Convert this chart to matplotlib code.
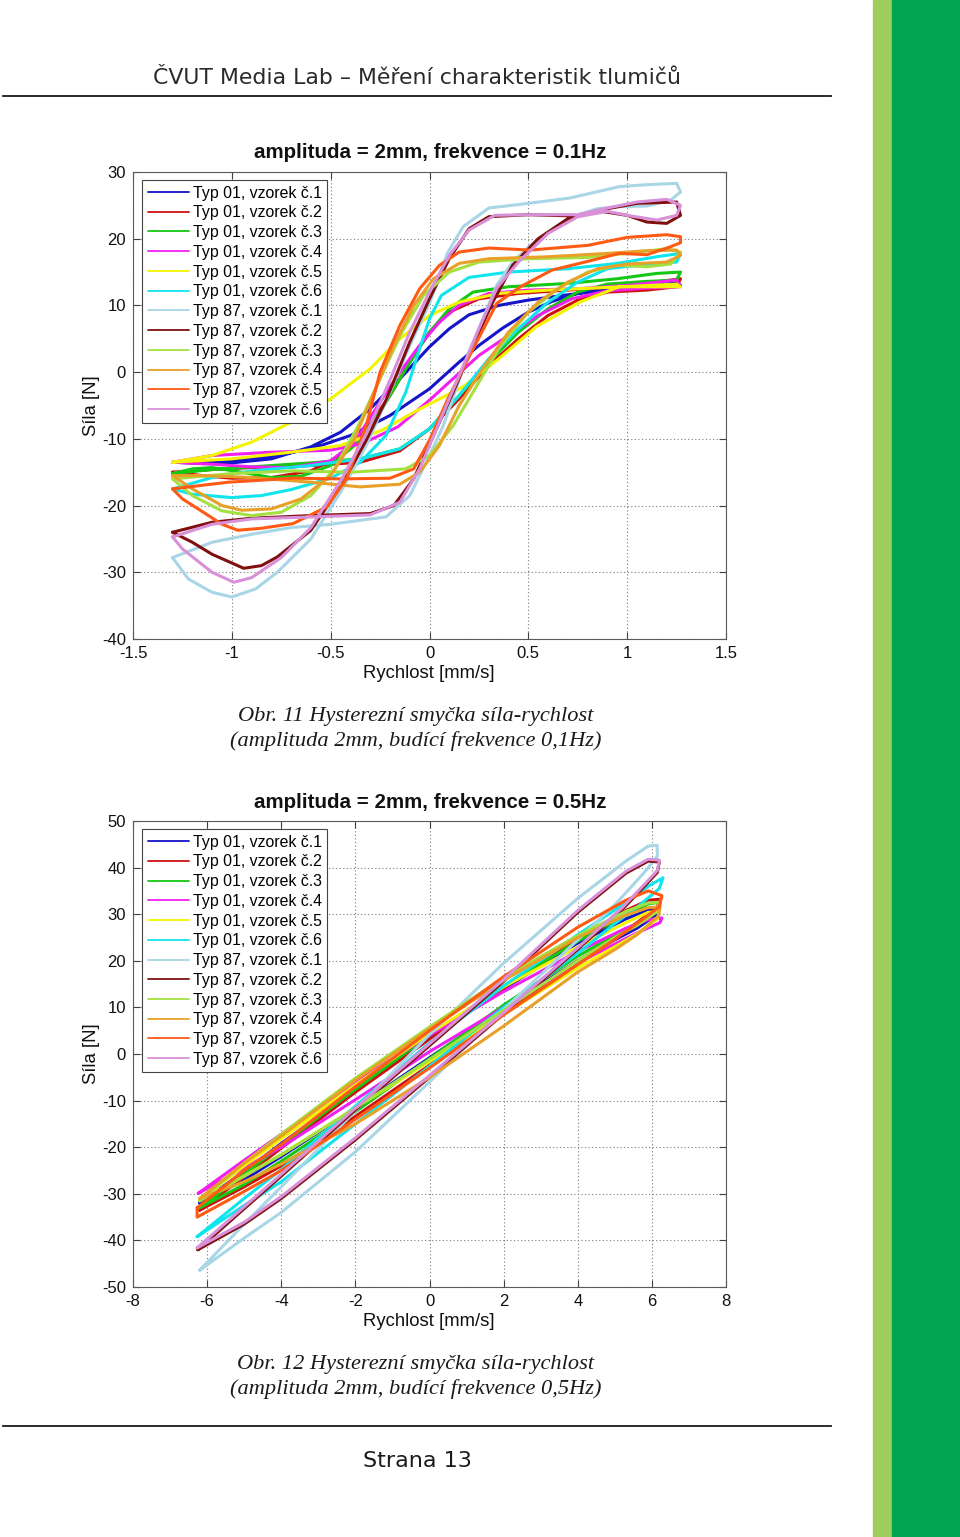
import matplotlib
matplotlib.use("Agg")
import matplotlib.pyplot as plt
from matplotlib.lines import Line2D
from matplotlib.patches import Rectangle
import numpy as np

plt.rcParams["axes.unicode_minus"] = False

# ---------------- data ----------------
labels = ["Typ 01, vzorek č.1", "Typ 01, vzorek č.2", "Typ 01, vzorek č.3",
          "Typ 01, vzorek č.4", "Typ 01, vzorek č.5", "Typ 01, vzorek č.6",
          "Typ 87, vzorek č.1", "Typ 87, vzorek č.2", "Typ 87, vzorek č.3",
          "Typ 87, vzorek č.4", "Typ 87, vzorek č.5", "Typ 87, vzorek č.6"]
colors = ["#1414c8", "#d01010", "#14c814", "#f020f0", "#f4f400", "#10e4ec",
          "#a8d6e6", "#801010", "#a4e040", "#e8a028", "#ff5a14", "#d890d8"]

slow_xticks = [-1.5, -1, -0.5, 0, 0.5, 1, 1.5]
slow_xticklabels = ["-1.5", "-1", "-0.5", "0", "0.5", "1", "1.5"]
slow_yticks = [-40, -30, -20, -10, 0, 10, 20, 30]
fast_xticks = [-8, -6, -4, -2, 0, 2, 4, 6, 8]
fast_yticks = [-50, -40, -30, -20, -10, 0, 10, 20, 30, 40, 50]

# ---- 0.1 Hz loops: (velocity mm/s, force N) ----
slow_01_1 = [(-1.30,-13.5),(-1.15,-13.7),(-1.0,-13.6),(-0.8,-13.0),(-0.6,-11.2),(-0.45,-9.0),(-0.3,-5.5),(-0.15,-1.0),(0.0,3.8),(0.1,6.5),(0.2,8.6),(0.35,10.0),(0.5,10.8),(0.7,11.6),(0.9,12.3),(1.1,12.9),(1.25,13.4),
             (1.27,13.0),(1.1,12.9),(0.88,12.5),(0.75,11.8),(0.62,10.6),(0.5,9.0),(0.37,6.6),(0.25,4.0),(0.15,1.5),(0.0,-2.5),(-0.2,-6.5),(-0.4,-9.5),(-0.6,-11.5),(-0.8,-12.6),(-1.0,-13.2),(-1.30,-13.5)]
slow_01_2 = [(-1.30,-15.0),(-1.15,-15.5),(-1.0,-15.9),(-0.8,-15.8),(-0.6,-14.8),(-0.45,-12.5),(-0.32,-8.5),(-0.2,-3.5),(-0.1,1.5),(0.0,6.0),(0.1,9.0),(0.25,11.0),(0.45,11.8),(0.7,12.3),(0.95,12.8),(1.15,13.5),(1.27,14.0),
             (1.25,12.8),(1.1,12.3),(0.9,12.0),(0.75,10.8),(0.6,8.5),(0.45,5.0),(0.3,1.0),(0.15,-4.0),(0.0,-8.5),(-0.15,-11.8),(-0.35,-13.5),(-0.6,-14.0),(-0.9,-14.3),(-1.1,-14.6),(-1.30,-15.0)]
slow_01_3 = [(-1.30,-15.2),(-1.2,-14.5),(-1.1,-14.3),(-0.95,-15.0),(-0.8,-15.8),(-0.65,-15.6),(-0.5,-14.0),(-0.36,-10.5),(-0.24,-5.5),(-0.12,0.5),(0.0,6.0),(0.1,9.5),(0.22,12.0),(0.4,12.8),(0.7,13.3),(0.95,14.0),(1.15,14.8),(1.27,15.0),
             (1.25,13.8),(1.1,13.6),(0.9,13.2),(0.75,12.0),(0.6,9.5),(0.45,6.0),(0.3,1.5),(0.15,-3.5),(0.0,-8.5),(-0.15,-11.5),(-0.35,-13.0),(-0.6,-13.6),(-0.9,-14.2),(-1.1,-14.6),(-1.30,-15.2)]
slow_01_4 = [(-1.30,-13.5),(-1.1,-13.8),(-0.9,-14.2),(-0.7,-14.3),(-0.5,-13.3),(-0.38,-10.5),(-0.25,-4.5),(-0.15,0.0),(-0.05,4.0),(0.05,7.5),(0.15,10.0),(0.3,11.8),(0.5,12.3),(0.75,12.5),(1.0,13.0),(1.25,13.8),
             (1.27,12.8),(1.1,12.6),(0.9,12.2),(0.72,11.0),(0.55,8.5),(0.4,5.5),(0.25,2.5),(0.1,-1.5),(0.0,-4.2),(-0.16,-8.2),(-0.34,-10.7),(-0.5,-11.7),(-0.8,-12.0),(-1.1,-12.5),(-1.30,-13.5)]
slow_01_5 = [(-1.30,-13.5),(-1.1,-12.5),(-0.9,-10.5),(-0.7,-7.5),(-0.5,-4.0),(-0.3,0.5),(-0.15,5.0),(0.0,8.5),(0.15,10.5),(0.35,11.8),(0.6,12.3),(0.9,12.7),(1.25,13.2),
             (1.27,12.8),(0.96,12.8),(0.76,10.5),(0.54,6.8),(0.35,2.0),(0.17,-2.2),(-0.06,-5.7),(-0.24,-8.7),(-0.45,-11.0),(-0.7,-12.0),(-1.0,-13.0),(-1.30,-13.5)]
slow_01_6 = [(-1.30,-17.5),(-1.2,-18.3),(-1.0,-18.8),(-0.85,-18.5),(-0.7,-17.6),(-0.5,-15.9),(-0.35,-13.5),(-0.22,-9.5),(-0.12,-3.0),(-0.05,3.5),(0.0,8.0),(0.06,11.5),(0.2,14.2),(0.4,15.0),(0.7,15.5),(0.95,16.3),(1.15,17.3),(1.27,17.8),
             (1.25,16.5),(1.1,16.2),(0.9,15.5),(0.75,13.5),(0.6,10.5),(0.45,6.5),(0.3,2.0),(0.15,-3.5),(0.0,-8.5),(-0.15,-11.5),(-0.35,-13.0),(-0.6,-14.0),(-0.9,-14.8),(-1.1,-15.8),(-1.30,-17.5)]
slow_87_1 = [(-1.30,-27.8),(-1.22,-31.0),(-1.1,-33.0),(-1.0,-33.7),(-0.88,-32.5),(-0.77,-30.0),(-0.6,-25.0),(-0.44,-17.5),(-0.32,-11.0),(-0.2,-3.0),(-0.1,4.0),(0.0,10.3),(0.09,17.8),(0.17,21.8),(0.3,24.6),(0.5,25.3),(0.71,26.1),(0.96,27.8),(1.1,28.1),(1.25,28.3),(1.27,27.0),
             (1.22,25.8),(1.1,24.9),(0.95,24.8),(0.85,24.5),(0.71,23.2),(0.6,21.0),(0.51,19.0),(0.42,16.5),(0.34,13.0),(0.27,8.0),(0.2,3.0),(0.14,-2.0),(0.07,-8.0),(0.0,-12.5),(-0.1,-18.5),(-0.22,-21.7),(-0.5,-22.8),(-0.7,-23.3),(-0.9,-24.3),(-1.1,-25.5),(-1.30,-27.8)]
slow_87_2 = [(-1.30,-24.0),(-1.2,-25.5),(-1.1,-27.3),(-0.94,-29.4),(-0.85,-29.0),(-0.77,-27.7),(-0.6,-23.7),(-0.44,-16.7),(-0.32,-10.2),(-0.22,-4.2),(-0.1,4.5),(0.0,11.0),(0.1,17.0),(0.2,21.5),(0.3,23.3),(0.5,23.6),(0.75,23.4),(0.9,24.5),(1.05,25.3),(1.25,25.5),(1.27,23.5),
             (1.2,22.3),(1.1,22.5),(1.0,23.5),(0.85,24.2),(0.7,23.0),(0.55,20.0),(0.42,16.0),(0.32,10.5),(0.22,4.0),(0.12,-3.0),(0.02,-9.5),(-0.08,-16.0),(-0.18,-20.0),(-0.3,-21.2),(-0.6,-21.5),(-0.9,-21.9),(-1.1,-22.5),(-1.30,-24.0)]
slow_87_3 = [(-1.30,-16.0),(-1.2,-18.5),(-1.05,-20.8),(-0.9,-21.5),(-0.75,-21.0),(-0.6,-18.5),(-0.48,-14.5),(-0.36,-8.0),(-0.25,-1.0),(-0.14,6.0),(-0.03,11.5),(0.1,15.0),(0.25,16.5),(0.5,17.0),(0.8,17.2),(1.0,17.8),(1.2,18.5),(1.27,18.0),
             (1.22,16.2),(1.1,15.8),(0.95,16.0),(0.8,15.0),(0.65,12.5),(0.5,9.0),(0.36,4.0),(0.24,-2.0),(0.12,-8.0),(0.0,-12.5),(-0.12,-14.5),(-0.4,-15.0),(-0.7,-14.8),(-1.0,-15.2),(-1.30,-16.0)]
slow_87_4 = [(-1.30,-15.5),(-1.2,-17.5),(-1.05,-20.0),(-0.95,-20.7),(-0.8,-20.5),(-0.65,-19.0),(-0.5,-15.5),(-0.38,-10.0),(-0.28,-3.0),(-0.18,4.0),(-0.08,10.0),(0.02,14.0),(0.15,16.3),(0.3,17.0),(0.6,17.3),(0.9,17.8),(1.1,18.2),(1.25,18.3),
             (1.27,17.5),(1.2,16.5),(1.0,16.2),(0.85,15.5),(0.7,13.5),(0.55,10.5),(0.4,6.0),(0.28,1.0),(0.15,-5.0),(0.05,-11.0),(-0.05,-15.0),(-0.15,-16.8),(-0.35,-17.2),(-0.6,-16.5),(-0.9,-15.8),(-1.15,-15.5),(-1.30,-15.5)]
slow_87_5 = [(-1.30,-17.5),(-1.25,-19.0),(-1.16,-20.7),(-1.05,-22.8),(-0.97,-23.7),(-0.85,-23.4),(-0.69,-22.7),(-0.52,-20.2),(-0.42,-16.0),(-0.32,-8.0),(-0.25,0.0),(-0.15,7.0),(-0.05,12.5),(0.05,16.0),(0.15,18.0),(0.3,18.6),(0.51,18.3),(0.8,19.0),(1.0,20.2),(1.2,20.6),(1.27,20.3),
             (1.27,19.4),(1.22,18.8),(1.1,17.6),(0.96,17.8),(0.8,16.6),(0.62,15.3),(0.46,12.8),(0.34,10.3),(0.2,2.3),(0.09,-4.2),(0.0,-10.2),(-0.08,-14.5),(-0.2,-15.9),(-0.45,-16.0),(-0.69,-15.9),(-1.02,-16.5),(-1.30,-17.5)]
slow_87_6 = [(-1.30,-24.7),(-1.25,-26.5),(-1.1,-30.0),(-0.99,-31.5),(-0.9,-30.8),(-0.75,-27.8),(-0.6,-23.3),(-0.45,-16.3),(-0.32,-9.3),(-0.2,-1.2),(-0.1,6.0),(0.0,12.0),(0.1,17.5),(0.2,21.3),(0.33,23.5),(0.5,23.6),(0.75,23.6),(0.9,24.6),(1.05,25.5),(1.2,25.9),(1.27,25.0),
             (1.25,23.5),(1.15,22.8),(1.02,23.4),(0.9,24.1),(0.75,23.3),(0.6,20.8),(0.45,16.5),(0.34,12.6),(0.25,6.5),(0.15,-0.5),(0.05,-7.5),(-0.05,-14.5),(-0.15,-19.5),(-0.3,-21.4),(-0.6,-21.7),(-0.9,-22.0),(-1.1,-22.8),(-1.30,-24.7)]

# ---- 0.5 Hz loops ----
fast_01_1 = [(-6.20,-32.0),(-5,-25.2),(-4,-19.2),(-2,-7.8),(0,3.4),(2,14.0),(4,23.8),(5.3,29.0),(5.9,30.9),(6.14,31.2),(6.12,29.8),(5.6,27.0),(5,24.5),(4,20.0),(2,10.0),(0,-0.8),(-2,-11.6),(-4,-22.0),(-5,-27.0),(-6.20,-32.0)]
fast_01_2 = [(-6.20,-33.5),(-5,-26.3),(-4,-20.2),(-2,-8.2),(0,3.2),(2,14.2),(4,24.6),(5.3,30.8),(5.9,33.0),(6.2,33.2),(6.15,31.5),(5.6,28.2),(5,25.0),(4,20.0),(2,9.0),(0,-2.4),(-2,-13.4),(-4,-24.0),(-5,-28.5),(-6.20,-33.5)]
fast_01_3 = [(-6.20,-33.0),(-5,-25.8),(-4,-19.6),(-2,-7.6),(0,4.0),(2,14.6),(4,24.2),(5.3,29.8),(5.9,32.2),(6.22,32.6),(6.2,30.8),(5.6,28.0),(5,25.5),(4,21.0),(2,10.5),(0,-1.0),(-2,-12.4),(-4,-23.0),(-5,-28.0),(-6.20,-33.0)]
fast_01_4 = [(-6.24,-29.9),(-5,-22.8),(-4,-17.2),(-2,-6.0),(0,4.0),(2,13.4),(4,22.0),(5.3,27.0),(5.9,28.8),(6.27,29.2),(6.22,28.2),(5.6,26.0),(5,23.6),(4,19.5),(2,10.0),(0,0.5),(-2,-9.8),(-4,-20.0),(-5,-24.5),(-6.24,-29.9)]
fast_01_5 = [(-6.19,-31.3),(-5,-24.0),(-4,-18.2),(-2,-6.6),(0,4.4),(2,14.4),(4,23.0),(5.3,28.2),(5.9,30.4),(6.2,30.6),(6.15,29.0),(5.6,25.8),(5,23.0),(4,18.5),(2,8.5),(0,-1.6),(-2,-11.6),(-4,-21.6),(-5,-26.2),(-6.19,-31.3)]
fast_01_6 = [(-6.27,-39.2),(-5,-31.0),(-4,-24.8),(-2,-11.2),(0,2.4),(2,14.6),(4,25.6),(5.3,32.5),(5.9,36.0),(6.3,37.8),(6.2,35.5),(5.6,31.5),(5,28.0),(4,21.6),(2,10.0),(0,-2.6),(-2,-15.0),(-4,-27.4),(-5,-32.5),(-6.27,-39.2)]
fast_87_1 = [(-6.20,-46.4),(-5,-36.5),(-4,-28.5),(-2,-12.2),(0,4.2),(2,19.5),(4,33.4),(5.3,41.4),(5.9,44.6),(6.14,44.8),(6.15,42.5),(5.8,39.0),(5,32.0),(4,24.5),(2,9.5),(0,-6.0),(-2,-21.0),(-4,-34.0),(-5,-39.5),(-6.20,-46.4)]
fast_87_2 = [(-6.25,-42.0),(-5,-33.2),(-4,-26.2),(-2,-12.0),(0,1.8),(2,15.6),(4,30.4),(5.3,38.8),(5.9,41.4),(6.2,41.2),(6.15,39.0),(5.8,36.0),(5.2,31.0),(4,22.5),(2,8.6),(0,-5.0),(-2,-18.4),(-4,-31.0),(-5,-36.5),(-6.25,-42.0)]
fast_87_3 = [(-6.20,-31.5),(-5,-23.4),(-4,-17.2),(-2,-5.2),(0,5.8),(2,16.4),(4,25.4),(5.3,30.6),(5.9,32.4),(6.2,32.6),(6.15,30.6),(5.6,27.6),(5,25.0),(4,20.0),(2,9.4),(0,-1.2),(-2,-11.6),(-4,-21.6),(-5,-26.2),(-6.20,-31.5)]
fast_87_4 = [(-6.20,-31.0),(-5,-23.4),(-4,-17.6),(-2,-5.6),(0,5.4),(2,15.8),(4,25.0),(5.3,29.8),(5.9,31.4),(6.22,31.6),(6.18,29.6),(5.6,25.6),(5,22.4),(4,17.6),(2,6.0),(0,-5.0),(-2,-15.0),(-4,-23.6),(-5,-27.4),(-6.20,-31.0)]
fast_87_5 = [(-6.27,-33.0),(-5,-25.0),(-4,-19.4),(-2,-7.0),(0,5.0),(2,16.6),(4,27.2),(5.3,33.0),(5.9,35.0),(6.27,34.0),(6.2,31.6),(5.7,28.6),(5,24.6),(4,19.2),(2,8.4),(0,-3.0),(-2,-14.0),(-4,-25.0),(-5,-29.5),(-6.27,-35.0),(-6.27,-33.0)]
fast_87_6 = [(-6.27,-41.6),(-5,-32.8),(-4,-25.8),(-2,-11.6),(0,2.2),(2,16.0),(4,30.8),(5.3,39.2),(5.9,41.8),(6.2,41.6),(6.15,39.4),(5.8,36.4),(5.2,31.4),(4,22.8),(2,8.9),(0,-4.6),(-2,-18.0),(-4,-30.6),(-5,-36.1),(-6.27,-41.6)]

slow_series = [slow_01_1, slow_01_2, slow_01_3, slow_01_4, slow_01_5, slow_01_6,
               slow_87_1, slow_87_2, slow_87_3, slow_87_4, slow_87_5, slow_87_6]
fast_series = [fast_01_1, fast_01_2, fast_01_3, fast_01_4, fast_01_5, fast_01_6,
               fast_87_1, fast_87_2, fast_87_3, fast_87_4, fast_87_5, fast_87_6]

# ---------------- figure ----------------
W, H = 960, 1537
fig = plt.figure(figsize=(W / 100, H / 100), dpi=100)
fig.patch.set_facecolor("white")

def fx(x):
    return x / W

def fy(y):
    return 1 - y / H

SANS = ["Liberation Sans", "DejaVu Sans"]
SERIF = ["Liberation Serif", "DejaVu Serif"]

# green stripes on the right
fig.add_artist(Rectangle((fx(873), 0), fx(892) - fx(873), 1, transform=fig.transFigure,
                         color="#9fcd5e", zorder=0))
fig.add_artist(Rectangle((fx(892), 0), 1 - fx(892), 1, transform=fig.transFigure,
                         color="#00a651", zorder=0))

# header / footer
fig.text(fx(417), fy(78), "ČVUT Media Lab – Měření charakteristik tlumičů",
         ha="center", va="center", fontsize=15.8, family="DejaVu Sans", color="#2a2a2a")
fig.add_artist(Line2D([fx(3), fx(831)], [fy(96), fy(96)], color="#1a1a1a", lw=1.3))
fig.add_artist(Line2D([fx(3), fx(831)], [fy(1426), fy(1426)], color="#1a1a1a", lw=1.3))
fig.text(fx(417), fy(1461), "Strana 13", ha="center", va="center", fontsize=16,
         family="DejaVu Sans", color="#1a1a1a")


def make_axes(top, bottom, xlim, ylim, xticks, yticks, xticklabels, series, title,
              caption1, caption2, cap_y1, cap_y2, lw):
    ax = fig.add_axes([fx(133), fy(bottom), fx(726) - fx(133), (bottom - top) / H])
    for pts, c, lab in zip(series, colors, labels):
        arr = np.array(pts)
        ax.plot(arr[:, 0], arr[:, 1], color=c, lw=lw, label=lab,
                solid_joinstyle="round", solid_capstyle="round")
    ax.set_xlim(*xlim)
    ax.set_ylim(*ylim)
    ax.set_xticks(xticks)
    if xticklabels is not None:
        ax.set_xticklabels(xticklabels)
    ax.set_yticks(yticks)
    ax.grid(True, linestyle=(0, (1, 2.2)), color="#7a7a7a", lw=0.8)
    ax.tick_params(direction="in", top=True, right=True, length=5, width=0.8,
                   color="#404040", labelsize=12, pad=5)
    for lab in ax.get_xticklabels() + ax.get_yticklabels():
        lab.set_family(SANS)
        lab.set_color("#111111")
    for s in ax.spines.values():
        s.set_color("#5a5a5a")
        s.set_linewidth(0.8)
    leg = ax.legend(loc="upper left", bbox_to_anchor=(0.0152, 1 - 8 / (bottom - top)),
                    borderaxespad=0, fancybox=False, framealpha=1, edgecolor="#444444",
                    prop={"family": SANS, "size": 11.4}, handlelength=2.6,
                    handletextpad=0.25, labelspacing=0.3, borderpad=0.35)
    leg.get_frame().set_linewidth(0.8)
    for h in leg.get_lines():
        h.set_linewidth(1.3)
    fig.text(fx(430), fy(top - 19), title, ha="center", va="center", fontsize=14.8,
             weight="bold", family=SANS, color="#111111")
    fig.text(fx(429), fy(bottom + 34), "Rychlost [mm/s]", ha="center", va="center",
             fontsize=13.3, family=SANS, color="#111111")
    fig.text(fx(92), fy((top + bottom) / 2), "Síla [N]", ha="center", va="center",
             rotation=90, fontsize=13.3, family=SANS, color="#111111")
    fig.text(fx(416), fy(cap_y1), caption1, ha="center", va="center", fontsize=16.1,
             style="italic", family=SERIF, color="#1a1a1a")
    fig.text(fx(416), fy(cap_y2), caption2, ha="center", va="center", fontsize=16.1,
             style="italic", family=SERIF, color="#1a1a1a")
    return ax


make_axes(172, 639, (-1.5, 1.5), (-40, 30), slow_xticks, slow_yticks, slow_xticklabels,
          slow_series, "amplituda = 2mm, frekvence = 0.1Hz",
          "Obr. 11 Hysterezní smyčka síla-rychlost",
          "(amplituda 2mm, budící frekvence 0,1Hz)", 716, 741, 2.2)
make_axes(821, 1287, (-8, 8), (-50, 50), fast_xticks, fast_yticks, None,
          fast_series, "amplituda = 2mm, frekvence = 0.5Hz",
          "Obr. 12 Hysterezní smyčka síla-rychlost",
          "(amplituda 2mm, budící frekvence 0,5Hz)", 1365, 1389, 2.2)

fig.savefig("out.png", dpi=100, facecolor="white")
